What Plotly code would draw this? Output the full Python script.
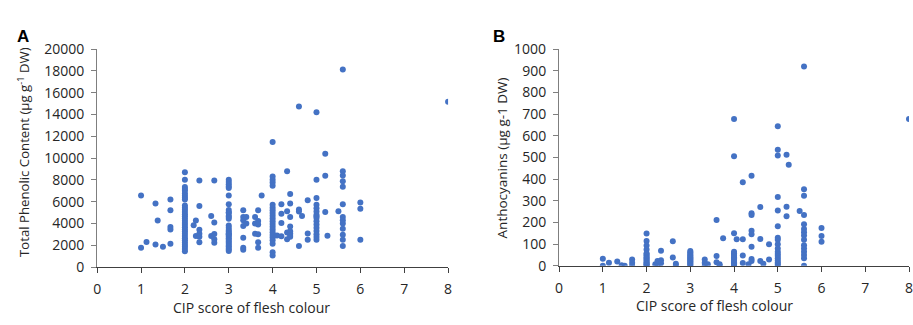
import plotly.graph_objects as go

# ---------------- Panel A: Total phenolic content ----------------
a_x = ([1, 1, 1.125, 1.33, 1.33, 1.38, 1.5, 1.67, 1.67, 1.67, 1.67, 1.67]
       + [2] * 31
       + [2.2, 2.25, 2.25, 2.33, 2.33, 2.33, 2.33, 2.33, 2.33, 2.6, 2.6,
          2.67, 2.67, 2.67, 2.67, 2.67]
       + [3] * 30
       + [3.33] * 7 + [3.4, 3.4, 3.6, 3.6, 3.6]
       + [3.67] * 6 + [3.75]
       + [4] * 22
       + [4.1, 4.2, 4.2, 4.2, 4.2, 4.33, 4.33, 4.33, 4.33]
       + [4.4] * 8
       + [4.6, 4.6, 4.6, 4.6, 4.67, 4.8, 4.8, 4.8]
       + [5] * 16
       + [5.2, 5.2, 5.2, 5.25, 5.5]
       + [5.6] * 13
       + [6, 6, 6, 8])
a_y = ([6560, 1780, 2300, 5840, 2070, 4260, 1870, 6190, 5200, 3680, 3450, 2130]
       + [8700, 8000, 7350, 7150, 7000, 6750, 6550, 6350, 6200, 5650, 5450,
          5250, 5050, 4850, 4650, 4450, 4250, 4050, 3850, 3650, 3450, 3250,
          3050, 2850, 2650, 2450, 2250, 2050, 1850, 1650, 1450]
       + [3830, 4260, 2850, 7940, 5610, 3420, 3050, 2790, 2270, 4690, 2850,
          7940, 4090, 3020, 2560, 2220]
       + [8000, 7800, 7600, 7400, 7250, 6560, 5750, 5240, 4980, 4700, 4430,
          3800, 3600, 3400, 3250, 3100, 2950, 2800, 2650, 2500, 2350, 2200,
          2050, 1900, 1750, 1600, 1470, 5000, 4600, 3000]
       + [5200, 4580, 4290, 3770, 2680, 1780, 1580, 4580, 4000, 4580, 4000, 3050]
       + [5200, 4230, 3910, 3000, 2270, 1780, 6560]
       + [11480, 8300, 8000, 7750, 7450, 5720, 5450, 5200, 4950, 4700, 4450,
          4200, 3950, 3700, 3450, 3200, 2950, 2700, 2450, 2130, 1350, 1060]
       + [2900, 5750, 4890, 4030, 2820, 8800, 5120, 3170, 2560]
       + [6700, 5840, 4580, 3710, 3280, 3100, 2950, 2790]
       + [14730, 5270, 5090, 1930, 4690, 6130, 3080, 2500]
       + [14200, 8000, 6330, 5720, 5400, 5100, 4800, 4500, 4200, 3900, 3600,
          3300, 3000, 2750, 2500, 4650]
       + [10390, 8370, 5040, 2880, 5120]
       + [18130, 8800, 8400, 7880, 7370, 5750, 4580, 4290, 4000, 3510, 2960,
          2500, 1930]
       + [5930, 5350, 2500, 15170])

# ---------------- Panel B: Anthocyanins ----------------
b_x = ([1, 1, 1.14, 1.33, 1.43, 1.5, 1.67, 1.67, 1.67]
       + [2] * 16
       + [2.2, 2.25, 2.25, 2.33, 2.33, 2.33, 2.6, 2.6, 2.67, 2.67]
       + [3] * 14
       + [3.33, 3.33, 3.33, 3.4, 3.6, 3.6, 3.6, 3.67, 3.67, 3.75]
       + [4] * 17
       + [4.06, 4.2, 4.2, 4.2, 4.2, 4.33]
       + [4.4] * 8
       + [4.6, 4.6, 4.6, 4.67, 4.8, 4.8]
       + [5] * 18
       + [5.2, 5.2, 5.2, 5.25, 5.5]
       + [5.6] * 15
       + [6, 6, 6, 8])
b_y = ([33, 0, 14, 20, 3, 0, 29, 14, 0]
       + [149, 114, 94, 75, 58, 52, 46, 40, 34, 28, 22, 16, 11, 7, 3, 0]
       + [7, 22, 4, 69, 26, 12, 113, 38, 10, 2]
       + [68, 62, 56, 50, 45, 40, 35, 30, 25, 20, 15, 10, 5, 0]
       + [29, 14, 0, 7, 211, 45, 16, 7, 0, 127]
       + [677, 506, 150, 65, 58, 52, 46, 40, 34, 28, 22, 16, 12, 8, 4, 2, 0]
       + [123, 386, 123, 48, 13, 7]
       + [415, 242, 234, 162, 146, 88, 32, 22]
       + [271, 124, 22, 10, 100, 29]
       + [644, 535, 509, 317, 255, 182, 130, 120, 100, 80, 65, 55, 45, 35,
          25, 15, 8, 0]
       + [512, 273, 229, 466, 253]
       + [920, 353, 323, 234, 192, 170, 155, 140, 120, 95, 80, 65, 50, 35, 0]
       + [175, 137, 111, 677])

x_ticks = [0, 1, 2, 3, 4, 5, 6, 7, 8]
a_ticks = [0, 2000, 4000, 6000, 8000, 10000, 12000, 14000, 16000, 18000, 20000]
b_ticks = [0, 100, 200, 300, 400, 500, 600, 700, 800, 900, 1000]

W, H = 913, 325
BLUE = "#4472C4"
FONT = "Open Sans"
AX = "#404040"
TICKFONT = dict(family=FONT, size=14, color="#262626")

fig = go.Figure()
fig.add_trace(go.Scatter(x=a_x, y=a_y, mode="markers", xaxis="x", yaxis="y",
                         marker=dict(color=BLUE, size=6), showlegend=False))
fig.add_trace(go.Scatter(x=b_x, y=b_y, mode="markers", xaxis="x2", yaxis="y2",
                         marker=dict(color=BLUE, size=6), showlegend=False))

def xax(domain, anchor):
    return dict(domain=domain, anchor=anchor, range=[0, 8], tickvals=x_ticks,
                ticktext=[str(v) for v in x_ticks],
                showgrid=False, zeroline=False, showline=True, linecolor=AX,
                linewidth=1.3, ticks="outside", ticklen=5, tickcolor=AX,
                tickfont=TICKFONT, ticklabelstandoff=4,
                ticklabeloverflow="allow")

def yax(domain, anchor, rng, ticks):
    return dict(domain=domain, anchor=anchor, range=rng, tickvals=ticks,
                ticktext=[str(v) for v in ticks],
                showgrid=False, zeroline=False, showline=True, linecolor="#7f7f7f",
                linewidth=1.3, ticks="outside", ticklen=5, tickcolor="#7f7f7f",
                tickfont=TICKFONT, ticklabelstandoff=4)

ydom = [1 - 273 / H, 1 - 41.5 / H]
ydom2 = [1 - 271.7 / H, 1 - 41.5 / H]
fig.update_layout(
    width=W, height=H, margin=dict(l=0, r=0, t=0, b=0),
    paper_bgcolor="white", plot_bgcolor="white",
    xaxis=xax([94 / W, 448 / W], "y"),
    yaxis=yax(ydom, "x", [0, 20000], a_ticks),
    xaxis2=xax([560 / W, 1.0], "y2"),
    yaxis2=yax(ydom2, "x2", [0, 1000], b_ticks),
)

ann_font = dict(family=FONT, size=14, color="#262626")
anns = [
    dict(text="<b>A</b>", x=11 / W, y=1 - 16 / H, xanchor="left", yanchor="top",
         font=dict(family="Liberation Sans", size=17, color="black")),
    dict(text="<b>B</b>", x=491 / W, y=1 - 16 / H, xanchor="left", yanchor="top",
         font=dict(family="Liberation Sans", size=17, color="black")),
    dict(text="CIP score of flesh colour", x=250 / W, y=1 - 316 / H,
         xanchor="center", yanchor="middle", font=ann_font),
    dict(text="CIP score of flesh colour", x=717 / W, y=1 - 314 / H,
         xanchor="center", yanchor="middle", font=ann_font),
    dict(text="Total Phenolic Content (µg g<sup>-1</sup> DW)", x=20 / W,
         y=1 - 151 / H, xanchor="center", yanchor="middle", textangle=-90,
         font=dict(family=FONT, size=13.2, color="#262626")),
    dict(text="Anthocyanins (µg g-1 DW)", x=502 / W, y=1 - 157 / H,
         xanchor="center", yanchor="middle", textangle=-90,
         font=dict(family=FONT, size=13.5, color="#262626")),
]
for a in anns:
    fig.add_annotation(xref="paper", yref="paper", showarrow=False, **a)

fig.write_html("out.html")
